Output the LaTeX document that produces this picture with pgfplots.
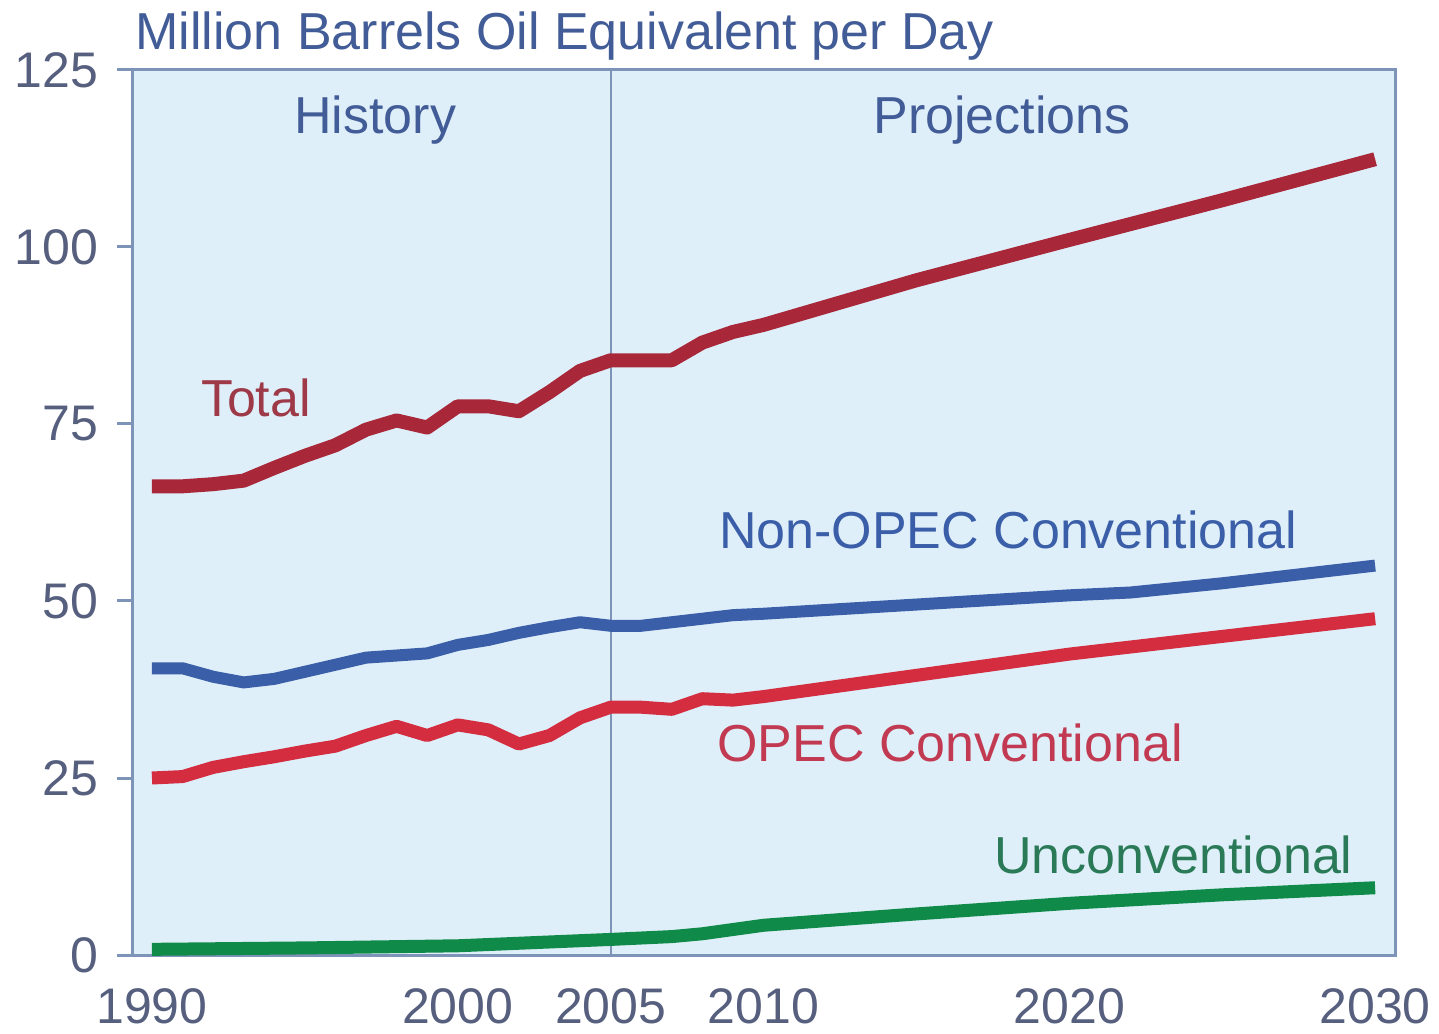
\documentclass[border=0pt]{standalone}
\usepackage{fontspec}
\setmainfont{Liberation Sans}
\usepackage{pgfplots}
\pgfplotsset{compat=1.18}

\definecolor{bgblue}{HTML}{DFEFFA}
\definecolor{framec}{HTML}{7D93B8}
\definecolor{txtblue}{HTML}{415C96}
\definecolor{tickc}{HTML}{56607E}
\definecolor{totalc}{HTML}{A8283A}
\definecolor{totallab}{HTML}{9E3A48}
\definecolor{nonopec}{HTML}{3A5EA8}
\definecolor{opec}{HTML}{D42D3F}
\definecolor{opeclab}{HTML}{C23A52}
\definecolor{uncon}{HTML}{108A48}
\definecolor{unconlab}{HTML}{2A7A58}

\pgfplotstableread{
year total
1990 66.2
1991 66.2
1992 66.5
1993 67.0
1994 68.8
1995 70.5
1996 72.0
1997 74.2
1998 75.5
1999 74.5
2000 77.5
2001 77.5
2002 76.8
2003 79.5
2004 82.5
2005 84.0
2006 84.0
2007 84.0
2008 86.5
2009 88.0
2010 89.0
2015 95.3
2020 101.0
2025 106.6
2030 112.4
}\totaltab

\pgfplotstableread{
year val
1990 40.5
1991 40.5
1992 39.3
1993 38.5
1994 39.0
1995 40.0
1996 41.0
1997 42.0
1998 42.3
1999 42.6
2000 43.8
2001 44.5
2002 45.5
2003 46.3
2004 47.0
2005 46.5
2006 46.5
2007 47.0
2008 47.5
2009 48.0
2010 48.2
2015 49.5
2020 50.8
2022 51.2
2025 52.5
2030 55.0
}\nonopectab

\pgfplotstableread{
year val
1990 25.0
1991 25.2
1992 26.5
1993 27.3
1994 28.0
1995 28.8
1996 29.5
1997 31.0
1998 32.3
1999 31.0
2000 32.5
2001 31.8
2002 29.8
2003 31.0
2004 33.5
2005 35.0
2006 35.0
2007 34.7
2008 36.2
2009 36.0
2010 36.5
2015 39.5
2020 42.5
2025 45.0
2030 47.5
}\opectab

\pgfplotstableread{
year val
1990 0.8
1995 1.0
2000 1.3
2005 2.2
2007 2.6
2008 3.0
2010 4.2
2015 5.8
2020 7.3
2025 8.5
2030 9.5
}\uncontab

\begin{document}
\begin{tikzpicture}
\begin{axis}[
    name=ax,
    scale only axis,
    width=631bp, height=442.5bp,
    xmin=1989.38, xmax=2030.65,
    ymin=0, ymax=125,
    xtick={1990,2000,2005,2010,2020,2030},
    ytick={0,25,50,75,100,125},
    xticklabel style={/pgf/number format/1000 sep={}},
    /pgf/number format/assume math mode=true,
    tick label style={font=\fontsize{25bp}{30bp}\selectfont, color=tickc},
    x tick label style={yshift=-5.5bp},
    y tick label style={xshift=-6bp},
    axis line style={draw=framec, line width=1.5bp},
    tick style={draw=framec, line width=1.5bp},
    ytick pos=left, xtick pos=bottom,
    tick align=outside,
    major tick length=8bp,
    x tick style={draw=none},
    axis background/.style={fill=bgblue},
    clip=false,
    every axis plot/.append style={line join=round},
]
\draw[framec, line width=1bp] (axis cs:2005,0) -- (axis cs:2005,125);

\addplot[uncon, line width=6.5bp] table[x=year, y=val] {\uncontab};
\addplot[opec, line width=6.5bp] table[x=year, y=val] {\opectab};
\addplot[nonopec, line width=6bp] table[x=year, y=val] {\nonopectab};
\addplot[totalc, line width=7bp] table[x=year, y=total] {\totaltab};

\node[font=\fontsize{26bp}{30bp}\selectfont, txtblue] at (axis cs:1997.3,117.9) {History};
\node[font=\fontsize{26bp}{30bp}\selectfont, txtblue] at (axis cs:2017.8,117.9) {Projections};
\node[font=\fontsize{26bp}{30bp}\selectfont, totallab] at (axis cs:1993.4,78.7) {Total};
\node[font=\fontsize{26bp}{30bp}\selectfont, nonopec] at (axis cs:2018.0,60.0) {Non-OPEC Conventional};
\node[font=\fontsize{26bp}{30bp}\selectfont, opeclab] at (axis cs:2016.1,30.0) {OPEC Conventional};
\node[font=\fontsize{26bp}{30bp}\selectfont, unconlab] at (axis cs:2023.4,14.1) {Unconventional};

\node[anchor=base west, inner sep=0pt, font=\fontsize{26bp}{30bp}\selectfont, txtblue]
    at ([xshift=1bp, yshift=10bp]rel axis cs:0,1) {Million Barrels Oil Equivalent per Day};
\end{axis}
\pgfresetboundingbox
\path[use as bounding box] ([xshift=-66.5bp, yshift=-39.5bp]ax.south west) rectangle ([xshift=22bp, yshift=35bp]ax.north east);
\end{tikzpicture}
\end{document}
